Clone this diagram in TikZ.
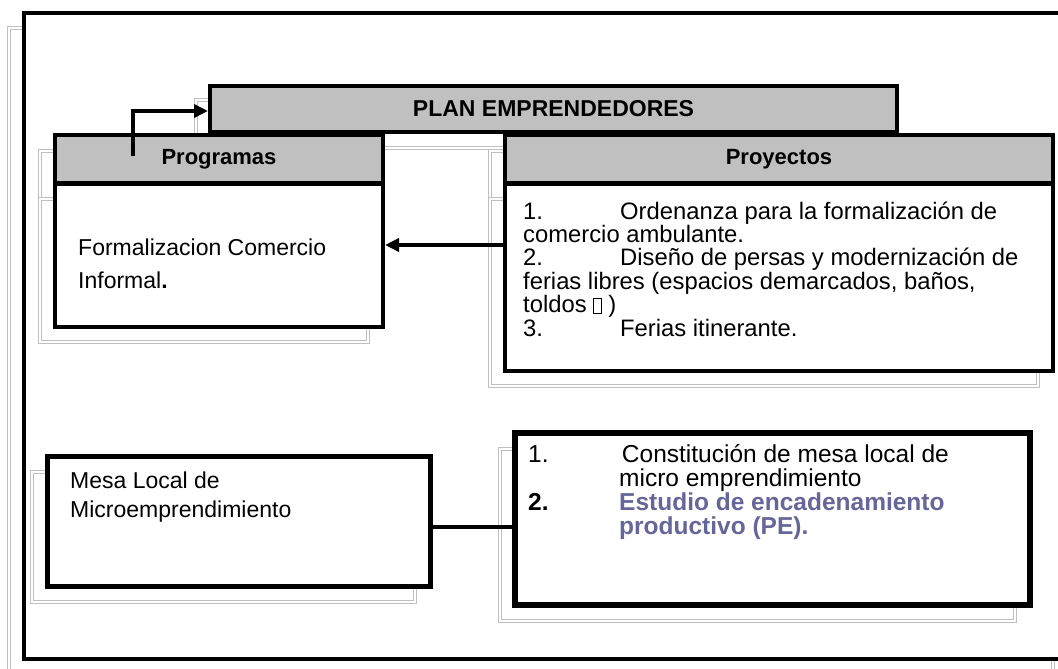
\documentclass[tikz,border=0pt]{standalone}
\usepackage{fontspec}
\setmainfont{Liberation Sans}
\usetikzlibrary{arrows.meta}
\definecolor{grisCaja}{HTML}{C0C0C0}
\definecolor{azulPE}{HTML}{666699}
% caracter que falta en el original
\newcommand{\glifoFalta}{{\setlength{\fboxsep}{0pt}\setlength{\fboxrule}{0.7pt}\fbox{\rule{0pt}{14pt}\hspace{7pt}}}}
\begin{document}
\begin{tikzpicture}[x=1pt,y=-1pt,
    caja/.style={draw, line width=4pt, fill=white, inner sep=0pt},
    cabecera/.style={caja, fill=grisCaja, font=\bfseries\fontsize{22}{26}\selectfont},
    sombra/.style={draw=black!25, line width=0.9pt, double=white, double distance=1.8pt},
    texto/.style={inner sep=0pt, anchor=base west, font=\fontsize{23}{#1}\selectfont},
    texto/.default=24,
    flecha/.style={line width=3.5pt, -{Triangle[length=14pt,width=13pt]}}]
\useasboundingbox (0,0) rectangle (1058,669);
\clip (0,0) rectangle (1058,669);

% marco exterior
\draw[sombra] (9,28) rectangle (1053,674);
\draw[line width=3.5pt, fill=white] (24,13) rectangle (1068,659);

% sombras de las cajas
\draw[sombra] (196,100) rectangle (882,148);
\draw[sombra] (40,151) rectangle (368,199);
\draw[sombra] (40,199) rectangle (368,342);
\draw[sombra] (490,151) rectangle (1038,199);
\draw[sombra] (490,199) rectangle (1038,386);
\draw[sombra] (32,472) rectangle (415,602);
\draw[sombra] (500,449) rectangle (1015,621);

% programas y proyectos
\node[cabecera, minimum width=328pt, minimum height=48pt] (progH) at (219,159) {Programas};
\node[caja, minimum width=328pt, minimum height=143pt] (progB) at (219,255) {};
\node[cabecera, minimum width=548pt, minimum height=48pt] (proyH) at (779,159) {Proyectos};
\node[caja, minimum width=548pt, minimum height=187pt] (proyB) at (779,277) {};

% parte de abajo
\node[caja, line width=5pt, minimum width=383pt, minimum height=130pt] (mesa) at (238.5,521) {};
\node[caja, line width=5.5pt, minimum width=515pt, minimum height=172pt] (encad) at (772.5,519) {};

% titulo
\node[cabecera, font=\bfseries\fontsize{23}{26}\selectfont, minimum width=687pt, minimum height=46pt] (plan) at (553.5,109) {PLAN EMPRENDEDORES};

% textos
\node[texto=33] (progT) at (78,255) {\parbox[t]{290pt}{\raggedright
  Formalizacion Comercio\\
  Informal{\bfseries .}}};
\node[texto=23.4, font=\fontsize{23.8}{23.4}\selectfont] (proyT) at (523,219) {\parbox[t]{520pt}{\raggedright
  \makebox[97pt][l]{1.}Ordenanza para la formalización de\\
  comercio ambulante.\\
  \makebox[97pt][l]{2.}Diseño de persas y modernización de\\
  ferias libres (espacios demarcados, baños,\\
  toldos \glifoFalta\ )\\
  \makebox[97pt][l]{3.}Ferias itinerante.}};
\node[texto=29] (mesaT) at (70,488) {\parbox[t]{340pt}{\raggedright
  Mesa Local de\\
  Microemprendimiento}};
\node[texto=24, font=\fontsize{24.5}{24}\selectfont] (encadT) at (528,462) {\parbox[t]{480pt}{\raggedright
  \makebox[87pt][l]{1.} Constitución de mesa local de\\
  \hspace*{91pt}micro emprendimiento\\
  \makebox[91pt][l]{\bfseries 2.}{\bfseries\color{azulPE}Estudio de encadenamiento}\\
  \hspace*{91pt}{\bfseries\color{azulPE}productivo (PE).}}};

% conectores
\coordinate (inicio) at (133,156);
\draw[flecha] (inicio) |- ([yshift=-2pt]plan.west);
\draw[flecha] ([yshift=32pt]proyB.west) -- ([yshift=10pt]progB.east);
\draw[line width=3.5pt] ([yshift=-6pt]mesa.east) -- ([yshift=-6pt]mesa.east -| encad.west);
\end{tikzpicture}
\end{document}
